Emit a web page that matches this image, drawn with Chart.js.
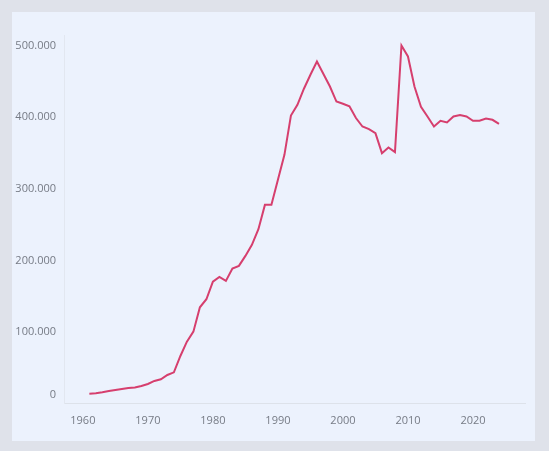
<!DOCTYPE html>
<html>
<head>
<meta charset="utf-8">
<script src="https://cdn.jsdelivr.net/npm/chart.js@4/dist/chart.umd.min.js"></script>
<style>
  html, body { margin: 0; padding: 0; background: #dfe2ea; }
  #wrap { position: relative; width: 549px; height: 451px; overflow: hidden; }
  #card { position: absolute; left: 12px; top: 12px; width: 523px; height: 429px; background: #ecf2fd; }
  #c { position: absolute; left: 0; top: 0; }
</style>
</head>
<body>
<div id="wrap">
  <div id="card"></div>
  <canvas id="c" width="549" height="451"></canvas>
</div>
<script>
const years = [1961,1962,1963,1964,1965,1966,1967,1968,1969,1970,
  1971,1972,1973,1974,1975,1976,1977,1978,1979,1980,
  1981,1982,1983,1984,1985,1986,1987,1988,1989,1990,
  1991,1992,1993,1994,1995,1996,1997,1998,1999,2000,
  2001,2002,2003,2004,2005,2006,2007,2008,2009,2010,
  2011,2012,2013,2014,2015,2016,2017,2018,2019,2020,
  2021,2022,2023,2024];
const values = [13700,14300,15700,17500,18900,20400,21700,22500,24500,27300,
  31500,33800,39900,43600,66400,86400,100400,134500,145700,170300,
  176900,171300,188500,192300,206300,221700,243600,277600,277600,312600,
  347500,402500,417500,439900,459500,478000,460400,443000,422000,418900,
  415400,398900,387100,383500,377900,349900,357800,351300,500300,485000,
  443000,414700,401100,387100,395100,392700,401100,403100,401100,395100,
  395100,398300,396500,390900];
const xTicks = [1960,1970,1980,1990,2000,2010,2020];
const yTicks = [0,100000,200000,300000,400000,500000];

const fmt = v => String(v).replace(/\B(?=(\d{3})+(?!\d))/g, '.');
const tickFont = { family: '"Open Sans", sans-serif', size: 11, lineHeight: 1.5 };
const tickColor = '#767b85';

new Chart(document.getElementById('c'), {
  type: 'line',
  data: {
    datasets: [{
      data: years.map((y, i) => ({ x: y, y: values[i] })),
      borderColor: '#d63f6e',
      borderWidth: 2,
      pointRadius: 0,
      tension: 0,
      fill: false
    }]
  },
  options: {
    responsive: false,
    animation: false,
    devicePixelRatio: 1,
    layout: { padding: { left: 0, right: 24, top: 35, bottom: 17 } },
    plugins: { legend: { display: false }, tooltip: { enabled: false } },
    scales: {
      x: {
        type: 'linear',
        min: 1957.1,
        max: 2028,
        afterBuildTicks: s => { s.ticks = xTicks.map(v => ({ value: v })); },
        afterFit: s => { s.height = 30.5; },
        grid: { drawOnChartArea: false, drawTicks: false },
        border: { display: true, color: '#dde2ea', width: 1 },
        ticks: { padding: 9, color: tickColor, font: tickFont, maxRotation: 0, callback: v => String(v) }
      },
      y: {
        type: 'linear',
        min: 0,
        max: 515000,
        afterBuildTicks: s => { s.ticks = yTicks.map(v => ({ value: v })); },
        afterFit: s => { s.width = 64; },
        grid: { drawOnChartArea: false, drawTicks: false },
        border: { display: true, color: '#e2e7f0', width: 1 },
        ticks: { padding: 8, color: tickColor, font: tickFont,
          callback: v => v === 0 ? ['0', ''] : fmt(v) }
      }
    }
  }
});
</script>
</body>
</html>
